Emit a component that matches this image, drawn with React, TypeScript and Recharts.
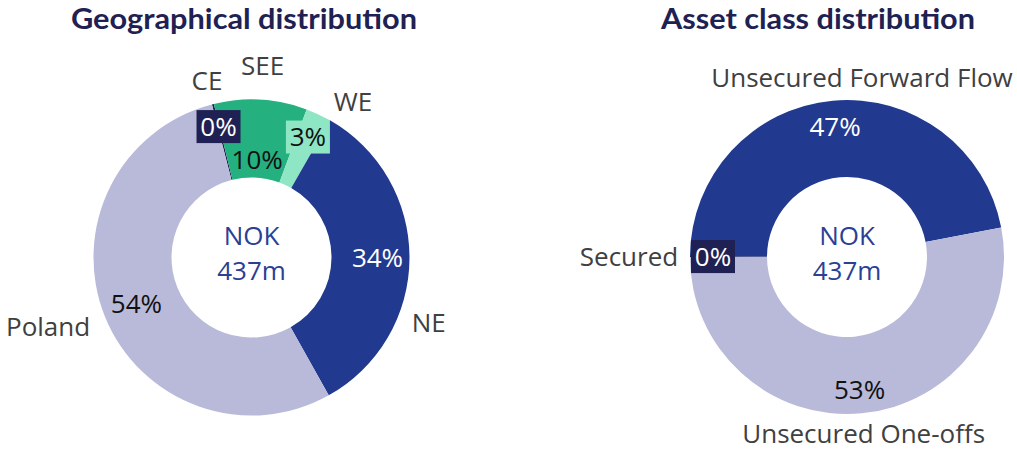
import { PieChart, Pie, Cell } from 'recharts';

// Geographical distribution (clockwise from CE)
const geoNames = ['CE', 'SEE', 'WE', 'NE', 'Poland'];
const geoValues = [0.2, 9.5, 2.6, 33.6, 54.1];
const geoColors = ['#1f2154', '#24b07f', '#8ee6c4', '#213a8f', '#b9bad9'];

// Asset class distribution (clockwise from Secured)
const assetNames = ['Secured', 'Unsecured Forward Flow', 'Unsecured One-offs'];
const assetValues = [0.1, 46.9, 53.0];
const assetColors = ['#1f2154', '#213a8f', '#b9bad9'];

const centerLines = ['NOK', '437m'];
const titles = ['Geographical distribution', 'Asset class distribution'];

const geoData = geoNames.map((name, i) => ({ name, value: geoValues[i] }));
const assetData = assetNames.map((name, i) => ({ name, value: assetValues[i] }));

// label placement per slice: radius of % label, whether it gets a box,
// radius + clockwise angle shift of the name label
const labelLayout: Record<string, { pctR: number; box?: boolean; light?: boolean; nameR: number; shift: number }> = {
  CE: { pctR: 135, box: true, light: true, nameR: 182, shift: 0 },
  SEE: { pctR: 98, nameR: 192, shift: 0 },
  WE: { pctR: 133, box: true, nameR: 186, shift: 8 },
  NE: { pctR: 126, light: true, nameR: 189, shift: 20 },
  Poland: { pctR: 124, nameR: 215, shift: 3 },
  Secured: { pctR: 134, box: true, light: true, nameR: 218, shift: 0 },
  'Unsecured Forward Flow': { pctR: 131, light: true, nameR: 180, shift: 10 },
  'Unsecured One-offs': { pctR: 133, nameR: 177, shift: 0 },
};

const FONT = '"Open Sans", sans-serif';
const RAD = Math.PI / 180;
const FS = 26;

const polar = (cx: number, cy: number, r: number, angle: number) => ({
  x: cx + r * Math.cos(-angle * RAD),
  y: cy + r * Math.sin(-angle * RAD),
});

const renderLabel = (props: any) => {
  const { cx, cy, midAngle, name, value, index, fill } = props;
  const lay = labelLayout[name];
  const p = polar(cx, cy, lay.pctR, midAngle);
  const n = polar(cx, cy, lay.nameR, midAngle - lay.shift);
  const base = FS * 0.36;
  return (
    <g>
      {index === 0 && (
        <g>
          {centerLines.map((t, i) => (
            <text key={t} x={cx} y={cy - 12.5 + i * 35} textAnchor="middle" fontFamily={FONT} fontSize={FS} fill="#2b3f95">
              {t}
            </text>
          ))}
        </g>
      )}
      {lay.box && <rect x={p.x - 22} y={p.y - 16.5} width={44} height={33} fill={fill} />}
      <text x={p.x} y={p.y + base} textAnchor="middle" fontFamily={FONT} fontSize={FS} fill={lay.light ? '#ffffff' : '#111111'}>
        {Math.round(value)}%
      </text>
      <text x={n.x} y={n.y + base} textAnchor="middle" fontFamily={FONT} fontSize={FS} fill="#404040">
        {name}
      </text>
    </g>
  );
};

export default function App() {
  return (
    <div style={{ position: 'absolute', left: 0, top: 0, width: 1017, height: 451, background: '#fff', overflow: 'visible' }}>
      <svg width={1017} height={451} style={{ position: 'absolute', left: 0, top: 0, overflow: 'visible' }}>
        <text x={244} y={29} textAnchor="middle" fontFamily="Lato, sans-serif" fontWeight={700} fontSize={29} textLength={346} lengthAdjust="spacingAndGlyphs" fill="#1f2152">
          {titles[0]}
        </text>
        <text x={818} y={29} textAnchor="middle" fontFamily="Lato, sans-serif" fontWeight={700} fontSize={29} textLength={314} lengthAdjust="spacingAndGlyphs" fill="#1f2152">
          {titles[1]}
        </text>
      </svg>
      <div style={{ position: 'absolute', left: 0, top: 0 }}>
        <PieChart width={1017} height={451} margin={{ top: 0, right: 0, bottom: 0, left: 0 }} style={{ overflow: 'visible' }}>
          <Pie
            data={geoData}
            dataKey="value"
            nameKey="name"
            cx={251.5}
            cy={257.5}
            innerRadius={80}
            outerRadius={158}
            startAngle={104.5}
            endAngle={-255.5}
            stroke="none"
            label={renderLabel}
            labelLine={false}
            isAnimationActive={false}
          >
            {geoData.map((d, i) => (
              <Cell key={d.name} fill={geoColors[i]} />
            ))}
          </Pie>
          <Pie
            data={assetData}
            dataKey="value"
            nameKey="name"
            cx={847}
            cy={257}
            innerRadius={80}
            outerRadius={157}
            startAngle={180}
            endAngle={-180}
            stroke="none"
            label={renderLabel}
            labelLine={false}
            isAnimationActive={false}
          >
            {assetData.map((d, i) => (
              <Cell key={d.name} fill={assetColors[i]} />
            ))}
          </Pie>
        </PieChart>
      </div>
    </div>
  );
}
